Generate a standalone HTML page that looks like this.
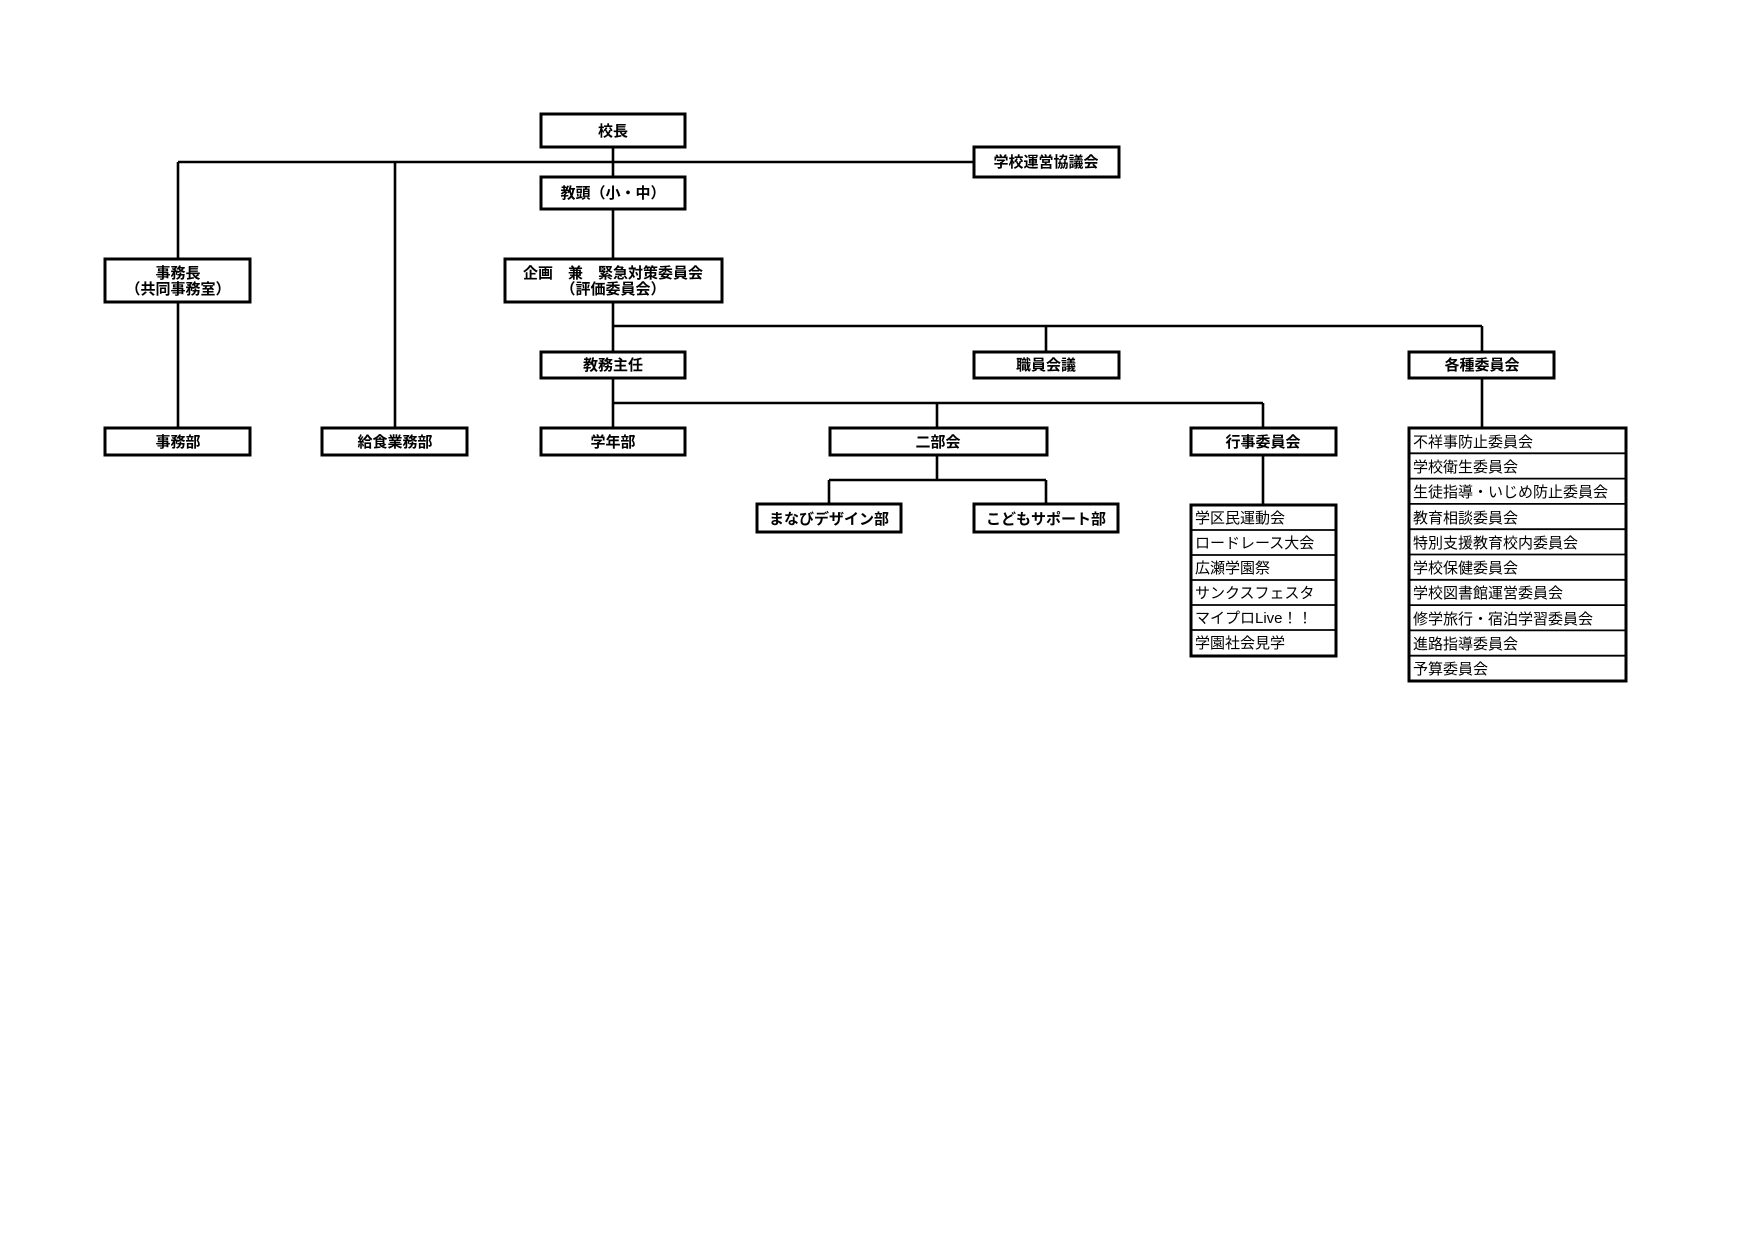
<!DOCTYPE html>
<html><head><meta charset="utf-8"><style>
html,body{margin:0;padding:0;background:#fff;}
svg{display:block;}
text{font-family:"Liberation Sans","Noto Sans CJK JP",sans-serif;font-size:15px;fill:#000;}
.b{font-weight:bold;}
</style></head><body>
<svg width="1754" height="1240" viewBox="0 0 1754 1240" xmlns="http://www.w3.org/2000/svg">
<g stroke="#000" stroke-width="2.6" fill="none">
<line x1="178" y1="162" x2="974" y2="162"/>
<line x1="178" y1="162" x2="178" y2="259"/>
<line x1="178" y1="302" x2="178" y2="428"/>
<line x1="395" y1="162" x2="395" y2="428"/>
<line x1="613" y1="147" x2="613" y2="176"/>
<line x1="613" y1="209" x2="613" y2="259"/>
<line x1="613" y1="302" x2="613" y2="352"/>
<line x1="613" y1="326" x2="1482" y2="326"/>
<line x1="1046" y1="326" x2="1046" y2="352"/>
<line x1="1482" y1="326" x2="1482" y2="352"/>
<line x1="613" y1="378" x2="613" y2="428"/>
<line x1="613" y1="403" x2="1263" y2="403"/>
<line x1="937" y1="403" x2="937" y2="428"/>
<line x1="1263" y1="403" x2="1263" y2="428"/>
<line x1="937" y1="455" x2="937" y2="480"/>
<line x1="829" y1="480" x2="1046" y2="480"/>
<line x1="829" y1="480" x2="829" y2="504"/>
<line x1="1046" y1="480" x2="1046" y2="504"/>
<line x1="1263" y1="455" x2="1263" y2="505"/>
<line x1="1482" y1="378" x2="1482" y2="428"/>
</g>
<g stroke="#000" stroke-width="3" fill="#fff">
<rect x="541" y="114" width="144" height="33"/>
<rect x="974" y="147" width="145" height="30"/>
<rect x="541" y="177" width="144" height="32"/>
<rect x="105" y="259" width="145" height="43"/>
<rect x="505" y="259" width="217" height="43"/>
<rect x="541" y="352" width="144" height="26"/>
<rect x="974" y="352" width="145" height="26"/>
<rect x="1409" y="352" width="145" height="26"/>
<rect x="105" y="428" width="145" height="27"/>
<rect x="322" y="428" width="145" height="27"/>
<rect x="541" y="428" width="144" height="27"/>
<rect x="830" y="428" width="217" height="27"/>
<rect x="1191" y="428" width="145" height="27"/>
<rect x="757" y="504" width="144" height="28"/>
<rect x="974" y="504" width="144" height="28"/>
<rect x="1191" y="505" width="145" height="151"/>
<rect x="1409" y="428" width="217" height="253"/>
</g>
<g stroke="#000" stroke-width="1.8">
<line x1="1191" y1="530" x2="1336" y2="530"/>
<line x1="1191" y1="555" x2="1336" y2="555"/>
<line x1="1191" y1="580" x2="1336" y2="580"/>
<line x1="1191" y1="605" x2="1336" y2="605"/>
<line x1="1191" y1="630" x2="1336" y2="630"/>
<line x1="1409" y1="453.3" x2="1626" y2="453.3"/>
<line x1="1409" y1="478.6" x2="1626" y2="478.6"/>
<line x1="1409" y1="503.9" x2="1626" y2="503.9"/>
<line x1="1409" y1="529.2" x2="1626" y2="529.2"/>
<line x1="1409" y1="554.5" x2="1626" y2="554.5"/>
<line x1="1409" y1="579.8" x2="1626" y2="579.8"/>
<line x1="1409" y1="605.1" x2="1626" y2="605.1"/>
<line x1="1409" y1="630.4" x2="1626" y2="630.4"/>
<line x1="1409" y1="655.7" x2="1626" y2="655.7"/>
</g>
<g text-anchor="middle" class="b">
<text class="b" x="613" y="136">校長</text>
<text class="b" x="1046" y="167">学校運営協議会</text>
<text class="b" x="613" y="198">教頭（小・中）</text>
<text class="b" x="178" y="278">事務長</text>
<text class="b" x="178" y="294">（共同事務室）</text>
<text class="b" x="613" y="278" xml:space="preserve">企画　兼　緊急対策委員会</text>
<text class="b" x="613" y="294">（評価委員会）</text>
<text class="b" x="613" y="370">教務主任</text>
<text class="b" x="1046" y="370">職員会議</text>
<text class="b" x="1482" y="370">各種委員会</text>
<text class="b" x="178" y="447">事務部</text>
<text class="b" x="395" y="447">給食業務部</text>
<text class="b" x="613" y="447">学年部</text>
<text class="b" x="938" y="447">二部会</text>
<text class="b" x="1263" y="447">行事委員会</text>
<text class="b" x="829" y="524">まなびデザイン部</text>
<text class="b" x="1046" y="524">こどもサポート部</text>
</g>
<g>
<text x="1195" y="523">学区民運動会</text>
<text x="1195" y="548">ロードレース大会</text>
<text x="1195" y="573">広瀬学園祭</text>
<text x="1195" y="598">サンクスフェスタ</text>
<text x="1195" y="623">マイプロLive！！</text>
<text x="1195" y="648">学園社会見学</text>
<text x="1413" y="447">不祥事防止委員会</text>
<text x="1413" y="472">学校衛生委員会</text>
<text x="1413" y="497">生徒指導・いじめ防止委員会</text>
<text x="1413" y="523">教育相談委員会</text>
<text x="1413" y="548">特別支援教育校内委員会</text>
<text x="1413" y="573">学校保健委員会</text>
<text x="1413" y="598">学校図書館運営委員会</text>
<text x="1413" y="624">修学旅行・宿泊学習委員会</text>
<text x="1413" y="649">進路指導委員会</text>
<text x="1413" y="674">予算委員会</text>
</g>
</svg>
</body></html>
